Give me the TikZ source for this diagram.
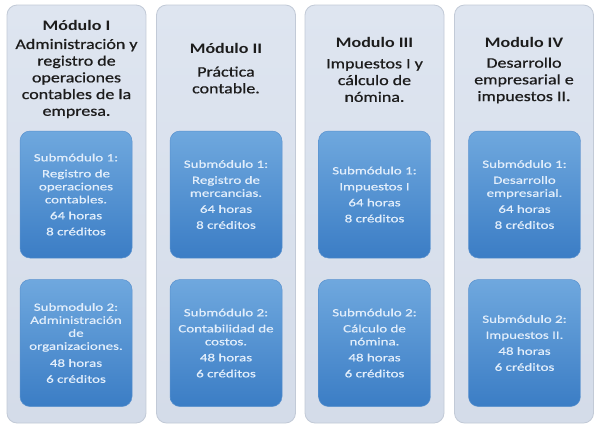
\documentclass[tikz,border=0pt]{standalone}
\usepackage{fontspec}
\setmainfont{Carlito}[FakeStretch=1.24]
\newfontfamily\descfont{Carlito}[FakeStretch=1.24,FakeBold=0.7]
\newfontfamily\subfont{Carlito}[FakeStretch=1.36,FakeBold=0.5]
\definecolor{colbgtop}{HTML}{DEE5F0}
\definecolor{colbgbot}{HTML}{D4DCE9}
\definecolor{colbd}{HTML}{C2CAD7}
\definecolor{boxtop}{HTML}{6FA8DE}
\definecolor{boxbot}{HTML}{3B7DC5}
\definecolor{boxbd}{HTML}{5A92CF}
\definecolor{subtxt}{HTML}{E2EEFB}
\definecolor{ttxt}{HTML}{1C1C1C}
\tikzset{
  column/.style={draw=colbd, line width=0.8pt, rounded corners=10pt,
    top color=colbgtop, bottom color=colbgbot,
    minimum width=139pt, minimum height=418pt, inner sep=0pt},
  subbox/.style={draw=boxbd, line width=0.5pt, rounded corners=10pt,
    top color=boxtop, bottom color=boxbot,
    minimum width=112pt, minimum height=127pt, inner sep=0pt,
    align=center, text=subtxt,
    font=\subfont\fontsize{11}{13}\selectfont},
  modtitle/.style={inner sep=0pt, text=ttxt,
    font=\bfseries\fontsize{14.5}{17}\selectfont},
  moddesc/.style={inner sep=0pt, text=ttxt, align=center,
    font=\descfont\fontsize{14.5}{16.7}\selectfont}
}
\begin{document}
\begin{tikzpicture}[x=1pt,y=-1pt]
\useasboundingbox (0,0) rectangle (600,432);
\fill[white] (0,0) rectangle (600,432);
% columns
\node[column] (c1) at (76.5,214) {};
\node[column] (c2) at (226,214) {};
\node[column] (c3) at (374.5,214) {};
\node[column] (c4) at (524,214) {};
% titles
\node[modtitle] (t1) at (76.5,25) {Módulo I};
\node[moddesc] (d1) at (76.5,78.5) {Administración y\\registro de\\operaciones\\contables de la\\empresa.};
\node[modtitle] (t2) at (226,48) {Módulo II};
\node[moddesc] (d2) at (226,80) {Práctica\\contable.};
\node[modtitle] (t3) at (374.5,42) {Modulo III};
\node[moddesc] (d3) at (374.5,80.5) {Impuestos I y\\cálculo de\\nómina.};
\node[modtitle] (t4) at (524,42) {Modulo IV};
\node[moddesc] (d4) at (524,80.5) {Desarrollo\\empresarial e\\impuestos II.};
% submodules
\node[subbox] (s11) at (76,194.5) {Submódulo 1:\\[3pt]Registro de\\operaciones\\contables.\\[3pt]64 horas\\[3pt]8 créditos};
\node[subbox] (s12) at (76,343) {Submodulo 2:\\Administración\\de\\organizaciones.\\[4pt]48 horas\\[3pt]6 créditos};
\node[subbox] (s21) at (226,194.5) {Submódulo 1:\\[3pt]Registro de\\mercancias.\\[3pt]64 horas\\[3pt]8 créditos};
\node[subbox] (s22) at (226,343) {Submódulo 2:\\[3pt]Contabilidad de\\costos.\\[3pt]48 horas\\[3pt]6 créditos};
\node[subbox] (s31) at (374.5,194.5) {Submódulo 1:\\[3pt]Impuestos I\\[3pt]64 horas\\[3pt]8 créditos};
\node[subbox] (s32) at (374.5,343) {Submódulo 2:\\[3pt]Cálculo de\\nómina.\\[3pt]48 horas\\[3pt]6 créditos};
\node[subbox] (s41) at (524.5,194.5) {Submódulo 1:\\[3pt]Desarrollo\\empresarial.\\[3pt]64 horas\\[3pt]8 créditos};
\node[subbox] (s42) at (524.5,343) {Submódulo 2:\\[3pt]Impuestos II.\\[3pt]48 horas\\[3pt]6 créditos};
\end{tikzpicture}
\end{document}
